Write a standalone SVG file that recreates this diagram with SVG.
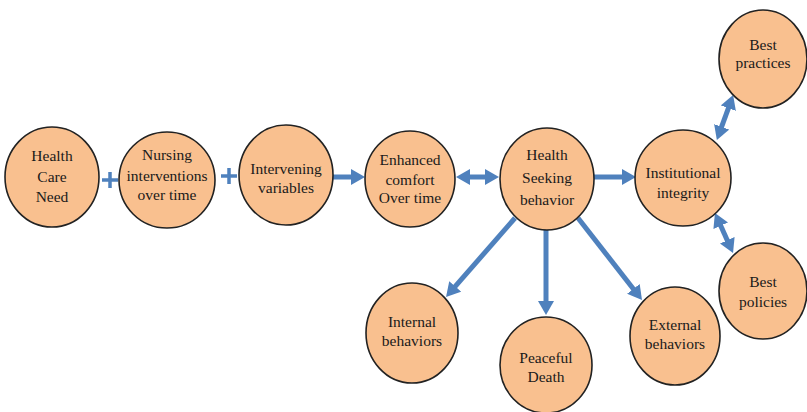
<svg xmlns="http://www.w3.org/2000/svg" width="807" height="412" viewBox="0 0 807 412">
<style>
.n{fill:#F9C08F;stroke:#222;stroke-width:1.6}
.t{font-family:"Liberation Serif","Times New Roman",serif;font-size:15.5px;fill:#1a1a1a;text-anchor:middle}
.c{stroke:#4F81BD;stroke-width:5;fill:none}
.p{stroke:#4F81BD;stroke-width:3.5;fill:none}
</style>
<defs>
<marker id="ah" markerUnits="userSpaceOnUse" markerWidth="14" markerHeight="16" viewBox="0 0 14 16" refX="1" refY="8" orient="auto-start-reverse">
<path d="M0,0 L14,8 L0,16 z" fill="#4F81BD"/>
</marker>
</defs>
<rect width="807" height="412" fill="#fff"/>
<g id="connectors">
<line class="c" x1="333" y1="177" x2="352" y2="177" marker-end="url(#ah)"/>
<line class="c" x1="469" y1="177" x2="486" y2="177" marker-start="url(#ah)" marker-end="url(#ah)"/>
<line class="c" x1="594" y1="177" x2="623" y2="177" marker-end="url(#ah)"/>
<line class="c" x1="721.3" y1="127.7" x2="728.7" y2="107.3" marker-start="url(#ah)" marker-end="url(#ah)"/>
<line class="c" x1="720.3" y1="224.8" x2="727.7" y2="241.2" marker-start="url(#ah)" marker-end="url(#ah)"/>
<line class="c" x1="515" y1="218" x2="454.6" y2="287.2" marker-end="url(#ah)"/>
<line class="c" x1="546" y1="229" x2="546" y2="302" marker-end="url(#ah)"/>
<line class="c" x1="578" y1="218" x2="634" y2="289.7" marker-end="url(#ah)"/>
<path class="p" d="M102,180 H118 M110,172 V188"/>
<path class="p" d="M221,176 H237 M229,168 V184"/>
</g>
<g id="health-care-need"><ellipse class="n" cx="52" cy="177" rx="47" ry="50"/><text class="t" x="52" y="161">Health</text><text class="t" x="52" y="182">Care</text><text class="t" x="52" y="202">Need</text></g>
<g id="nursing-interventions"><ellipse class="n" cx="167" cy="180" rx="48" ry="48"/><text class="t" x="167" y="160">Nursing</text><text class="t" x="167" y="181">interventions</text><text class="t" x="167" y="200">over time</text></g>
<g id="intervening-variables"><ellipse class="n" cx="286" cy="175" rx="47" ry="50"/><text class="t" x="286" y="174">Intervening</text><text class="t" x="286" y="193">variables</text></g>
<g id="enhanced-comfort"><ellipse class="n" cx="410" cy="179" rx="45" ry="48"/><text class="t" x="410" y="165">Enhanced</text><text class="t" x="410" y="185">comfort</text><text class="t" x="410" y="203">Over time</text></g>
<g id="health-seeking-behavior"><ellipse class="n" cx="547" cy="179" rx="47" ry="51"/><text class="t" x="547" y="160">Health</text><text class="t" x="547" y="183">Seeking</text><text class="t" x="547" y="205">behavior</text></g>
<g id="institutional-integrity"><ellipse class="n" cx="683" cy="178" rx="48" ry="48"/><text class="t" x="683" y="178">Institutional</text><text class="t" x="683" y="198">integrity</text></g>
<g id="best-practices"><ellipse class="n" cx="763" cy="59" rx="44" ry="49"/><text class="t" x="763" y="50">Best</text><text class="t" x="763" y="68">practices</text></g>
<g id="best-policies"><ellipse class="n" cx="763" cy="291" rx="44" ry="48"/><text class="t" x="763" y="287">Best</text><text class="t" x="763" y="307">policies</text></g>
<g id="external-behaviors"><ellipse class="n" cx="675" cy="336" rx="45" ry="49"/><text class="t" x="675" y="330">External</text><text class="t" x="675" y="349">behaviors</text></g>
<g id="internal-behaviors"><ellipse class="n" cx="412" cy="333" rx="46" ry="50"/><text class="t" x="412" y="327">Internal</text><text class="t" x="412" y="346">behaviors</text></g>
<g id="peaceful-death"><ellipse class="n" cx="546" cy="365" rx="46" ry="48"/><text class="t" x="546" y="363">Peaceful</text><text class="t" x="546" y="382">Death</text></g>
</svg>
